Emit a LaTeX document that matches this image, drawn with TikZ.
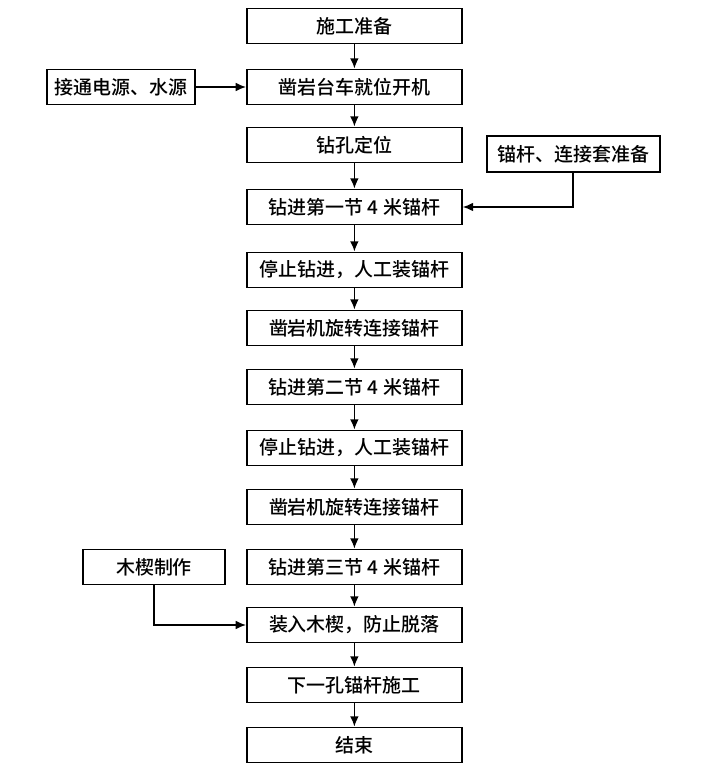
\documentclass[tikz,border=0pt]{standalone}
\usepackage{fontspec}
\newfontfamily\cjk{Noto Sans CJK SC Medium}
\usetikzlibrary{arrows.meta}

\begin{document}
\begin{tikzpicture}[
		>={Latex[length=2.6mm,width=2.2mm]},
		every node/.style={font=\cjk\fontsize{13.5}{15}\selectfont, align=center},
		box/.style={rectangle, draw=black, line width=1.2pt, minimum width=5.375cm, minimum height=0.875cm, inner sep=1pt},
		sidebox/.style={box, minimum width=3.7cm}
	]
		\useasboundingbox (0,0) rectangle (17.8,-19.325);

		\node[box] (prep) at (8.86,-0.65) {施工准备};
		\node[box] (rig) at (8.86,-2.175) {凿岩台车就位开机};
		\node[box] (pos) at (8.86,-3.625) {钻孔定位};
		\node[box] (dfirst) at (8.86,-5.175) {钻进第一节 4 米锚杆};
		\node[box] (stopa) at (8.86,-6.75) {停止钻进，人工装锚杆};
		\node[box] (joina) at (8.86,-8.2) {凿岩机旋转连接锚杆};
		\node[box] (dsecond) at (8.86,-9.675) {钻进第二节 4 米锚杆};
		\node[box] (stopb) at (8.86,-11.2) {停止钻进，人工装锚杆};
		\node[box] (joinb) at (8.86,-12.675) {凿岩机旋转连接锚杆};
		\node[box] (dthird) at (8.86,-14.175) {钻进第三节 4 米锚杆};
		\node[box] (wedge) at (8.86,-15.625) {装入木楔，防止脱落};
		\node[box] (nexth) at (8.86,-17.125) {下一孔锚杆施工};
		\node[box] (done) at (8.86,-18.625) {结束};

		\node[sidebox] (power) at (3.03,-2.175) {接通电源、水源};
		\node[sidebox, minimum width=4.325cm, minimum height=0.9cm] (bolts) at (14.33,-3.85) {锚杆、连接套准备};
		\node[sidebox, minimum width=3.55cm] (mkwedge) at (3.85,-14.175) {木楔制作};

		\draw[->, line width=1.2pt] (prep) -- (rig);
		\draw[->, line width=1.2pt] (rig) -- (pos);
		\draw[->, line width=1.2pt] (pos) -- (dfirst);
		\draw[->, line width=1.2pt] (dfirst) -- (stopa);
		\draw[->, line width=1.2pt] (stopa) -- (joina);
		\draw[->, line width=1.2pt] (joina) -- (dsecond);
		\draw[->, line width=1.2pt] (dsecond) -- (stopb);
		\draw[->, line width=1.2pt] (stopb) -- (joinb);
		\draw[->, line width=1.2pt] (joinb) -- (dthird);
		\draw[->, line width=1.2pt] (dthird) -- (wedge);
		\draw[->, line width=1.2pt] (wedge) -- (nexth);
		\draw[->, line width=1.2pt] (nexth) -- (done);

		\draw[->, line width=1.2pt] (power) -- (rig);
		\draw[->, line width=1.2pt] (bolts.south) |- (dfirst.east);
		\draw[->, line width=1.2pt] (mkwedge.south) |- (wedge.west);
	\end{tikzpicture}
\end{document}
